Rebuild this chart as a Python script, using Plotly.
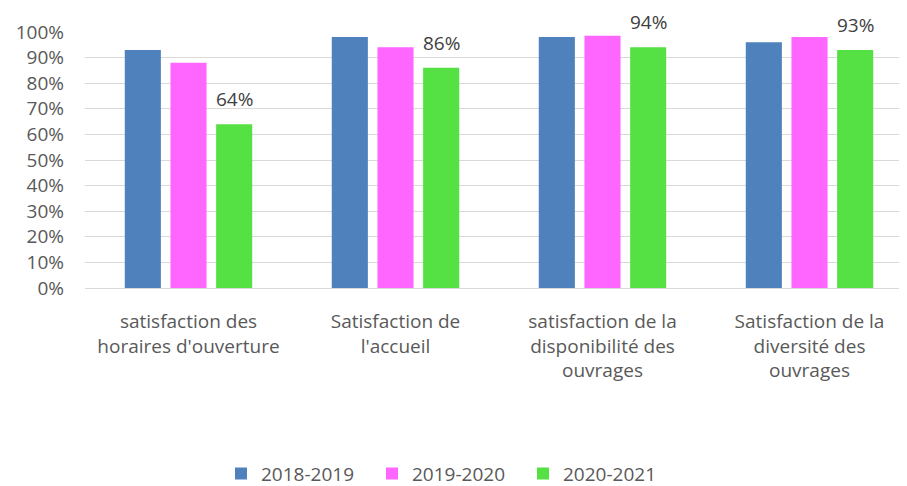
import plotly.graph_objects as go

categories = [
    "satisfaction des<br>horaires d'ouverture",
    "Satisfaction de<br>l'accueil",
    "satisfaction de la<br>disponibilité des<br>ouvrages",
    "Satisfaction de la<br>diversité des<br>ouvrages",
]
series_names = ["2018-2019", "2019-2020", "2020-2021"]
values_2018_2019 = [0.93, 0.98, 0.98, 0.96]
values_2019_2020 = [0.88, 0.94, 0.985, 0.98]
values_2020_2021 = [0.64, 0.86, 0.94, 0.93]
colors = ["#4F81BD", "#FF66FF", "#55E043"]
y_ticks = [i / 10 for i in range(11)]

FONT = "Open Sans"
FS = 19
fig = go.Figure()
for name, vals, col in zip(series_names, [values_2018_2019, values_2019_2020, values_2020_2021], colors):
    fig.add_trace(go.Bar(x=categories, y=vals, name=name, marker_color=col,
                         marker_line_width=0))

for c, v in zip(categories, values_2020_2021):
    fig.add_annotation(x=c, y=v, text=f"{round(v*100)}%", showarrow=False,
                       xref="x", yref="y", xshift=46, yanchor="bottom", yshift=10,
                       font=dict(family=FONT, size=FS, color="#404040"))

# page body has an 8px default margin, so the figure is 8px smaller and shifted
fig.update_layout(
    width=899, height=478,
    margin=dict(l=77, r=0, t=24, b=198),
    paper_bgcolor="white", plot_bgcolor="white",
    barmode="group", bargap=0.338, bargroupgap=0.21,
    font=dict(family=FONT, size=FS, color="#595959"),
    showlegend=True,
    legend=dict(orientation="h", x=0.441, xanchor="center",
                yref="container", y=0.026, yanchor="middle",
                font=dict(family=FONT, size=FS, color="#595959"),
                entrywidth=106, entrywidthmode="pixels",
                itemsizing="constant", traceorder="normal"),
    xaxis=dict(range=[-0.5, 3.471], showgrid=False, showline=False, ticks="",
               automargin=False,
               tickfont=dict(family=FONT, size=FS, color="#595959"), ticklabelstandoff=20),
    yaxis=dict(range=[0, 1], tickvals=y_ticks, tickformat=".0%", showgrid=True,
               automargin=False,
               gridcolor="#D9D9D9", gridwidth=1.3, zeroline=True, zerolinecolor="#D9D9D9",
               zerolinewidth=1.3, ticks="", tickfont=dict(family=FONT, size=FS, color="#595959"),
               ticklabelstandoff=20),
)
fig.write_html("out.html")
